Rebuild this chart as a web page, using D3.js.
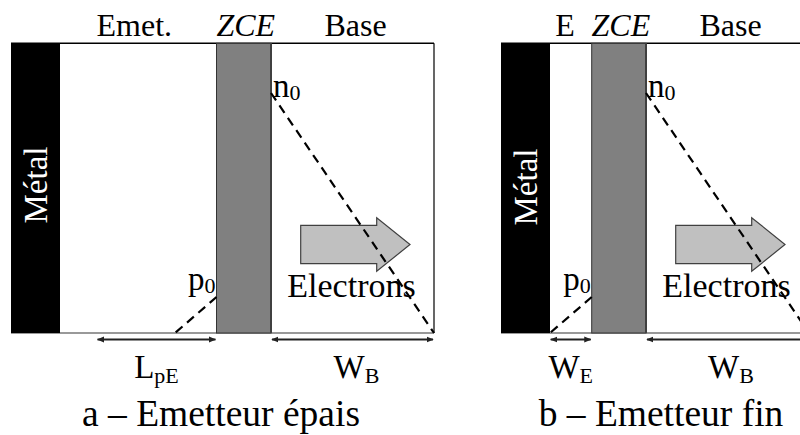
<!DOCTYPE html>
<html><head><meta charset="utf-8">
<script src="https://cdn.jsdelivr.net/npm/d3@7"></script>
<style>html,body{margin:0;padding:0;background:#fff;}svg{display:block;}
svg text{font-family:"Liberation Serif",Tinos,"Times New Roman","DejaVu Serif",serif;}</style>
</head><body>
<svg id="c" width="800" height="435"></svg>
<script>
// ---- data ----
const panelTitles = ["a – Emetteur épais", "b – Emetteur fin"];
const emitterLabels = ["Emet.", "E"];
const emitterSubs = ["pE", "E"];
const emitterMain = ["L", "W"];
const metalWidth = [49, 49];        // widths in diagram units
const emitterWidth = [156.5, 41.7];
const zceWidth = [54.5, 54.3];
const baseWidth = [163, 163];
const n0 = [1, 1];                  // normalised minority concentration at base edge
const p0 = [0.15, 0.15];            // normalised minority concentration at emitter edge
const pDecay = [41.5, 41.7];        // distance for the drawn hole profile to reach 0
const emitterArrowLen = [118, 40];  // L_pE / W_E arrow length

const svg = d3.select("#c");
const origins = [11, 501];
const y = d3.scaleLinear().domain([0, 1]).range([333, 93]);
const yTop = 43.3, yBot = 333;

svg.append("defs").append("marker").attr("id","ah").attr("viewBox","0 0 10 10")
  .attr("refX",9).attr("refY",5).attr("markerWidth",4).attr("markerHeight",4)
  .attr("orient","auto-start-reverse")
  .append("path").attr("d","M0,1 L10,5 L0,9 z").attr("fill","#222");

svg.append("clipPath").attr("id","clipAll").append("rect")
  .attr("x",0).attr("y",0).attr("width",800).attr("height",435);

panelTitles.forEach((title, i) => {
  const widths = [metalWidth[i], emitterWidth[i], zceWidth[i], baseWidth[i]];
  const edges = d3.cumsum([0, ...widths]);
  const total = edges[edges.length-1];
  const x = d3.scaleLinear().domain([0, total]).range([origins[i], origins[i] + total]);
  const g = svg.append("g").attr("clip-path","url(#clipAll)");
  const xM0 = x(edges[0]), xE0 = x(edges[1]), xZ0 = x(edges[2]), xB0 = x(edges[3]), xEnd = x(edges[4]);

  // outline
  g.append("line").attr("x1",xM0).attr("x2",xEnd).attr("y1",yTop).attr("y2",yTop)
    .attr("stroke","#000").attr("stroke-width",1.5);
  g.append("line").attr("x1",xM0).attr("x2",xEnd).attr("y1",yBot).attr("y2",yBot)
    .attr("stroke","#777").attr("stroke-width",1.5);
  g.append("line").attr("x1",xEnd).attr("x2",xEnd).attr("y1",yTop).attr("y2",yBot)
    .attr("stroke","#000").attr("stroke-width",1.2);
  // metal
  g.append("rect").attr("x",xM0).attr("y",yTop).attr("width",xE0-xM0).attr("height",yBot-yTop).attr("fill","#000");
  // ZCE
  g.append("rect").attr("x",xZ0).attr("y",yTop).attr("width",xB0-xZ0).attr("height",yBot-yTop)
    .attr("fill","#808080").attr("stroke","#333").attr("stroke-width",1);
  g.append("line").attr("x1",xB0).attr("x2",xB0).attr("y1",yTop).attr("y2",yBot)
    .attr("stroke","#404040").attr("stroke-width",2);

  // Métal label
  const mx = (xM0 + xE0)/2 + 11, my = 185 + i*2;
  g.append("text").attr("transform",`translate(${mx},${my}) rotate(-90)`)
    .attr("text-anchor","middle").attr("fill","#fff").attr("font-size",33).text("Métal");

  // top labels
  const topY = 36;
  const tl = [
    {t: emitterLabels[i], x: i===0 ? (xE0+xZ0)/2 - 4 : xE0 + 15, it:false},
    {t: "ZCE", x: (xZ0+xB0)/2 + 2, it:true},
    {t: "Base", x: (xB0+xEnd)/2 + 3, it:false}
  ];
  tl.forEach(d => g.append("text").attr("x",d.x).attr("y",topY).attr("text-anchor","middle")
    .attr("font-size",32).attr("font-style",d.it?"italic":"normal").text(d.t));

  // electrons block arrow
  const ax0 = xB0 + 29.7, axH = xB0 + 105.7, axT = xB0 + 139;
  const ay = 244.5, hh = 19.2, hw = 26.8;
  g.append("path").attr("d", d3.line()([[ax0, ay-hh],[axH, ay-hh],[axH, ay-hw],[axT, ay],[axH, ay+hw],[axH, ay+hh],[ax0, ay+hh]]) + "Z")
    .attr("fill","#c0c0c0").attr("stroke","#404040").attr("stroke-width",1.2);

  // dashed concentration profiles
  g.append("line").attr("x1",xB0).attr("y1",y(n0[i])).attr("x2",xEnd).attr("y2",y(0))
    .attr("stroke","#000").attr("stroke-width",2.2).attr("stroke-dasharray","9,6");
  g.append("line").attr("x1",xZ0).attr("y1",y(p0[i])).attr("x2",x(edges[2]-pDecay[i])).attr("y2",y(0))
    .attr("stroke","#000").attr("stroke-width",2.2).attr("stroke-dasharray","9,6");

  g.append("text").attr("x",(xB0+xEnd)/2 - 1).attr("y",297).attr("text-anchor","middle")
    .attr("font-size",34).text("Electrons");

  // n0 / p0
  const n0t = g.append("text").attr("x",xB0+2).attr("y",97).attr("font-size",33);
  n0t.append("tspan").text("n");
  n0t.append("tspan").attr("font-size",22).attr("dy",3).text("0");
  const p0t = g.append("text").attr("x",xZ0-1).attr("y",290).attr("text-anchor","end").attr("font-size",33);
  p0t.append("tspan").text("p");
  p0t.append("tspan").attr("font-size",22).attr("dy",3).text("0");

  // dimension arrows
  const arY = 339.5;
  g.append("line").attr("x1",xZ0-1).attr("x2",xZ0-1-emitterArrowLen[i]).attr("y1",arY).attr("y2",arY)
    .attr("stroke","#222").attr("stroke-width",1.8).attr("marker-start","url(#ah)").attr("marker-end","url(#ah)");
  g.append("line").attr("x1",xB0+1).attr("x2",xEnd-1).attr("y1",arY).attr("y2",arY)
    .attr("stroke","#222").attr("stroke-width",1.8).attr("marker-start","url(#ah)").attr("marker-end","url(#ah)");

  const lx = xZ0 - 1 - emitterArrowLen[i]/2;
  const lt = g.append("text").attr("x",lx).attr("y",378).attr("text-anchor","middle").attr("font-size",33);
  lt.append("tspan").text(emitterMain[i]);
  lt.append("tspan").attr("font-size",22).attr("dy",5).text(emitterSubs[i]);
  const wt = g.append("text").attr("x",i===0 ? (xB0+xEnd)/2 + 4 : 731).attr("y",378).attr("text-anchor","middle").attr("font-size",33);
  wt.append("tspan").text("W");
  wt.append("tspan").attr("font-size",22).attr("dy",5).text("B");

  // title
  svg.append("text").attr("x", i===0 ? 221 : 661).attr("y",426).attr("text-anchor","middle")
    .attr("font-size",37.5).text(title);
});
</script>
</body></html>
